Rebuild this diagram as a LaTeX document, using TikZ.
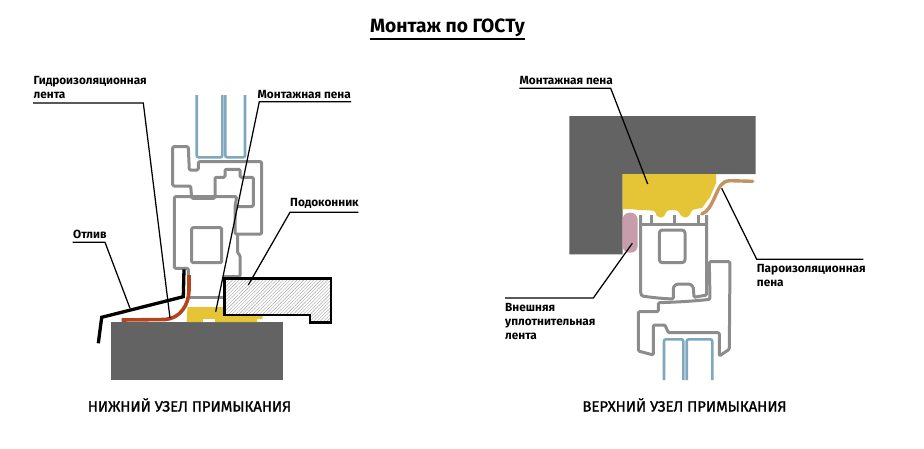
\documentclass[tikz,border=0pt]{standalone}
\usepackage{fontspec}
\setmainfont{Fira Sans}
\newfontfamily\hcCaps[FakeBold=1.4]{Fira Sans}
\definecolor{hcWall}{HTML}{636363}
\definecolor{hcFrame}{HTML}{8C8C8C}
\definecolor{hcGlass}{HTML}{7FA8C0}
\definecolor{hcFoam}{HTML}{E5C535}
\definecolor{hcTape}{HTML}{B5431E}
\definecolor{hcVapor}{HTML}{C4935F}
\definecolor{hcSeal}{HTML}{C79DAB}
\definecolor{hcHatch}{HTML}{A0A0A0}
\usetikzlibrary{patterns.meta}
\tikzset{
  profile/.style={draw=hcFrame, line width=3pt, line join=round, rounded corners=1.2pt},
  glass/.style={draw=hcGlass, line width=2.6pt, rounded corners=2pt},
  leader/.style={draw=black, line width=1.25pt},
  callout/.style={anchor=west, inner sep=0pt, align=left, font=\fontsize{11.8}{14}\selectfont\bfseries},
  caption/.style={inner sep=0pt, font=\fontsize{14.9}{17}\hcCaps}
}
\begin{document}
\begin{tikzpicture}[x=1pt,y=-1pt]
  \useasboundingbox (0,0) rectangle (924,448);
  \fill[white] (0,0) rectangle (924,448);
  \node[inner sep=0pt, font=\fontsize{19.2}{23}\selectfont\bfseries] (title) at (447.5,28) {Монтаж по ГОСТу};
  \draw[line width=1.5pt] (title.south west |- 0,39) coordinate (titleL) -- (title.south east |- 0,39) coordinate (titleR);

  % lower joint
  \fill[hcWall] (111,322) rectangle (283,380);
  \draw[glass] (196.7,95) -- (196.7,157.3) -- (222.3,157.3) -- (222.3,95);
  \draw[glass] (225.3,95) -- (225.3,157.3) -- (245,157.3) -- (245,95);
  \draw[profile] (235,206.5) -- (253.3,206.5) -- (253.3,177.3) -- (240,177.3) -- (240,169.3) -- (225,169.3) -- (225,177.3) -- (215,177.3) -- (215,198.3) -- (191.7,198.3) -- (190.7,186) -- (172.7,186) -- (172.7,146.7) -- (188.3,146.7) -- (189.3,170) -- (198.3,170) -- (198.3,161.7) -- (261.7,161.7) -- (261.7,234) -- (235,234) -- (235,206.5) -- (236.7,196.7) -- (191.7,196.7);
  \draw[profile] (191.7,196.7) -- (174.3,196.7) -- (174.3,268.3) -- (188.3,268.3) -- (188.3,276);
  \draw[profile] (237.7,234) -- (237.7,253.3) -- (240,255) -- (240,276.7) -- (223.3,276.7);
  \draw[profile] (191.7,227.7) rectangle (221.7,262.7);
  \draw[draw=hcFrame, line width=2.4pt] (190,297.3) -- (224,297.3);
  \fill[hcFoam] (186.7,321) -- (187.5,307) -- (224,307) -- (224,316) -- (262.5,316) -- (262.5,319) -- (257,319) -- (257,322) -- (187,322) -- cycle;
  \fill[white] (203.3,319.3) rectangle (215,322);
  \draw[line width=2.8pt, fill=white, pattern={Lines[angle=45,distance=2.4pt,line width=.4pt]}, pattern color=hcHatch] (224.3,278.3) -- (331,278.3) -- (331,322.7) -- (310,322.7) -- (310,315) -- (224.3,315) -- cycle;
  \draw[line width=3.3pt] (98.3,343.3) -- (101.7,317.3) -- (183.3,296.7) -- (184,269.3);
  \draw[draw=hcTape, line width=3.6pt] (121.7,320) -- (165,319.5) .. controls (180,318.5) and (189,305) .. (189,290) -- (189,275);

  \node[callout] (lblHydro) at (33.5,88) {Гидроизоляционная\\лента};
  \coordinate (hydroL) at (33,103);
  \coordinate (hydroE) at (143.3,103);
  \coordinate (hydroT) at (170,318);
  \draw[leader] (hydroL) -- (hydroE) -- (hydroT);
  \node[callout] (lblFoamL) at (257.5,95) {Монтажная пена};
  \coordinate (foamLE) at (259.3,101.7);
  \coordinate (foamLR) at (351,101.7);
  \coordinate (foamLT) at (215.7,311.7);
  \draw[leader] (foamLR) -- (foamLE) -- (foamLT);
  \node[callout] (lblSill) at (290,203) {Подоконник};
  \coordinate (sillE) at (290,212.3);
  \coordinate (sillR) at (358.3,212.3);
  \coordinate (sillT) at (248.3,285);
  \draw[leader] (sillR) -- (sillE) -- (sillT);
  \node[callout] (lblDrip) at (73,234) {Отлив};
  \coordinate (dripL) at (72.7,242.3);
  \coordinate (dripE) at (105,242.3);
  \coordinate (dripT) at (130,308.3);
  \draw[leader] (dripL) -- (dripE) -- (dripT);
  \node[caption] (capLower) at (189.5,405) {НИЖНИЙ УЗЕЛ ПРИМЫКАНИЯ};

  % upper joint
  \fill[hcWall] (569.3,116) -- (755.7,116) -- (755.7,174) -- (622.7,174) -- (622.7,254.3) -- (569.3,254.3) -- cycle;
  \fill[hcFoam] (622.7,174) -- (716,174) -- (716,183.3) -- (710,197) -- (702,208) -- plot[smooth,tension=.6] coordinates {(702,208) (692.5,210) (690,214.5) (686,217.5) (681,215.5) (678,211) (672,210) (667,211) (664.5,215.5) (661,217.5) (656.5,215.5) (654,211) (640,210) (630,209) (622.7,209.3)} -- cycle;
  \draw[draw=hcVapor, line width=3.4pt, line cap=round] (701.7,214) .. controls (708,212) and (711,205) .. (715,196.7) .. controls (719,188) and (721,181) .. (730,180.7) -- (752.7,181.3);
  \fill[hcSeal, rounded corners=7pt] (622.5,212.7) rectangle (637.7,252.7);
  \draw[profile] (640.7,215) -- (640.7,293.5) -- (642,296) .. controls (652,297.5) and (662,298.5) .. (673.3,299) -- (673.3,287) -- (676.7,284) -- (690,284) -- (693.3,287) -- (694,297.3) -- (706.7,295) -- (706.7,215);
  \draw[profile] (640.7,224) -- (706.7,224);
  \foreach \finx in {651.5,674,698} {
    \draw[profile] (\finx,215) -- (\finx,224);
  }
  \draw[profile, rounded corners=3pt] (659.3,230) rectangle (685,262.7);
  \draw[profile] (709.3,261.7) -- (730,261.7) -- (729.3,349.3) -- (719.3,356) -- (719.3,332.7) -- (668.3,332.7) -- (665,325) -- (653.3,325) -- (653.3,355) -- (638.3,351) -- (638.3,311.7) -- (658.3,311.7) -- (658.3,302.7) .. controls (680,302) and (695,301) .. (710,299.3) -- cycle;
  \draw[glass] (664,380) -- (664,339.3) -- (683.3,339.3) -- (683.3,380);
  \draw[glass] (686.7,380) -- (686.7,339.3) -- (712.3,339.3) -- (712.3,380);

  \node[callout] (lblFoamR) at (519.5,81) {Монтажная пена};
  \coordinate (foamRL) at (519.3,88.3);
  \coordinate (foamRE) at (610.7,88.3);
  \coordinate (foamRT) at (647.7,184);
  \draw[leader] (foamRL) -- (foamRE) -- (foamRT);
  \node[callout] (lblVapor) at (756.7,276) {Пароизоляционная\\пена};
  \coordinate (vaporR) at (863.3,259.3);
  \coordinate (vaporE) at (756.7,259.3);
  \coordinate (vaporT) at (721.7,188.3);
  \draw[leader] (vaporR) -- (vaporE) -- (vaporT);
  \node[callout] (lblSeal) at (505,321.5) {Внешняя\\уплотнительная\\лента};
  \coordinate (sealL) at (505,298);
  \coordinate (sealE) at (593.3,298);
  \coordinate (sealT) at (632.3,243.3);
  \draw[leader] (sealL) -- (sealE) -- (sealT);
  \node[caption] (capUpper) at (684.5,405) {ВЕРХНИЙ УЗЕЛ ПРИМЫКАНИЯ};
\end{tikzpicture}
\end{document}
